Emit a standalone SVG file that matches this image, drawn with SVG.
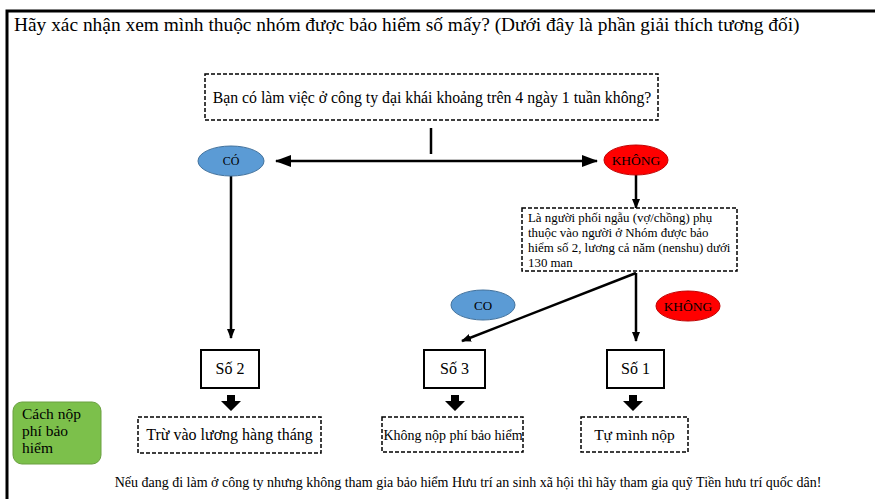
<svg xmlns="http://www.w3.org/2000/svg" width="875" height="499" viewBox="0 0 875 499">
<defs>
<marker id="ah" markerWidth="10" markerHeight="8" refX="9" refY="4" orient="auto" markerUnits="userSpaceOnUse"><path d="M0,0 L10,4 L0,8 Z" fill="#000"/></marker>
<marker id="ahs" markerWidth="16" markerHeight="12" refX="15" refY="6" orient="auto-start-reverse" markerUnits="userSpaceOnUse"><path d="M0,0 L16,6 L0,12 Z" fill="#000"/></marker>
</defs>
<style>
.t{font-family:"Liberation Serif","Times New Roman",serif;fill:#000}
.dash{fill:#fff;stroke:#000;stroke-width:1.5;stroke-dasharray:4 2}
.box{fill:#fff;stroke:#000;stroke-width:2}
.ln{stroke:#000;stroke-width:2.5;fill:none}
.blue{fill:#5B9BD5;stroke:#41719C;stroke-width:1}
.red{fill:#FF0000;stroke:#C00000;stroke-width:1}
.blk{fill:#000}
</style>
<rect width="875" height="499" fill="#fff"/>
<g id="frame"><path d="M875,11 L7,11 L7,499" stroke="#000" stroke-width="3" fill="none"/></g>
<g id="title"><text class="t" x="14" y="31" font-size="19.4">Hãy xác nhận xem mình thuộc nhóm được bảo hiểm số mấy? (Dưới đây là phần giải thích tương đối)</text></g>

<g id="connectors">
<line class="ln" x1="431" y1="128" x2="431" y2="154"/>
<line class="ln" x1="276" y1="161" x2="597" y2="161" marker-start="url(#ahs)" marker-end="url(#ahs)"/>
<line class="ln" x1="231" y1="176" x2="231" y2="338" marker-end="url(#ah)"/>
<line class="ln" x1="636" y1="175" x2="636" y2="208" marker-end="url(#ah)"/>
<line class="ln" x1="636" y1="273" x2="636" y2="341" marker-end="url(#ah)"/>
<line class="ln" x1="636" y1="273" x2="462" y2="341" marker-end="url(#ah)"/>
<path class="blk" d="M227,395 L235,395 L235,401 L241,401 L231,411 L221,401 L227,401 Z"/>
<path class="blk" d="M451,395 L459,395 L459,401 L465,401 L455,411 L445,401 L451,401 Z"/>
<path class="blk" d="M629,395 L637,395 L637,401 L643,401 L633,411 L623,401 L629,401 Z"/>
</g>

<g id="q1"><rect class="dash" x="205" y="74" width="453" height="46"/><text class="t" x="432" y="103" font-size="15.8" text-anchor="middle">Bạn có làm việc ở công ty đại khái khoảng trên 4 ngày 1 tuần không?</text></g>
<g id="co1"><ellipse class="blue" cx="231" cy="161" rx="33" ry="15"/><text class="t" x="231" y="165" font-size="12" text-anchor="middle" fill="#1F3864">CÓ</text></g>
<g id="khong1"><ellipse class="red" cx="636" cy="160" rx="32" ry="15"/><text class="t" x="636" y="165" font-size="13.5" text-anchor="middle" fill="#7A0000">KHÔNG</text></g>
<g id="q2"><rect class="dash" x="522" y="208" width="215" height="63"/>
<text class="t" font-size="12.9"><tspan x="528" y="222">Là người phối ngẫu (vợ/chồng) phụ</tspan><tspan x="528" y="237">thuộc vào người ở Nhóm được bảo</tspan><tspan x="528" y="252">hiểm số 2, lương cả năm (nenshu) dưới</tspan><tspan x="528" y="267">130 man</tspan></text></g>
<g id="co2"><ellipse class="blue" cx="483" cy="305" rx="32" ry="15"/><text class="t" x="483" y="310" font-size="13" text-anchor="middle" fill="#1F3864">CO</text></g>
<g id="khong2"><ellipse class="red" cx="688" cy="306" rx="32" ry="15"/><text class="t" x="688" y="311" font-size="13.5" text-anchor="middle" fill="#7A0000">KHÔNG</text></g>
<g id="so2"><rect class="box" x="201" y="350" width="58" height="38"/><text class="t" x="230" y="374" font-size="16" text-anchor="middle">Số 2</text></g>
<g id="so3"><rect class="box" x="424" y="350" width="61" height="38"/><text class="t" x="454.5" y="374" font-size="16" text-anchor="middle">Số 3</text></g>
<g id="so1"><rect class="box" x="607" y="350" width="57" height="38"/><text class="t" x="635.5" y="374" font-size="16" text-anchor="middle">Số 1</text></g>
<g id="pay"><rect x="13" y="402" width="88" height="62" rx="9" fill="#7CC04B" stroke="#6AA040" stroke-width="1"/>
<text class="t" font-size="15.5"><tspan x="22" y="419">Cách nộp</tspan><tspan x="22" y="436">phí bảo</tspan><tspan x="22" y="453">hiểm</tspan></text></g>
<g id="p2"><rect class="dash" x="138" y="417" width="183" height="36"/><text class="t" x="229.5" y="440" font-size="16" text-anchor="middle">Trừ vào lương hàng tháng</text></g>
<g id="p3"><rect class="dash" x="382" y="417" width="141" height="35"/><text class="t" x="453" y="440" font-size="14" text-anchor="middle">Không nộp phí bảo hiểm</text></g>
<g id="p1"><rect class="dash" x="581" y="417" width="107" height="35"/><text class="t" x="634.5" y="440" font-size="15.5" text-anchor="middle">Tự mình nộp</text></g>
<g id="footer"><text class="t" x="468" y="487" font-size="14" text-anchor="middle">Nếu đang đi làm ở công ty nhưng không tham gia bảo hiểm Hưu trí an sinh xã hội thì hãy tham gia quỹ Tiền hưu trí quốc dân!</text></g>
</svg>
